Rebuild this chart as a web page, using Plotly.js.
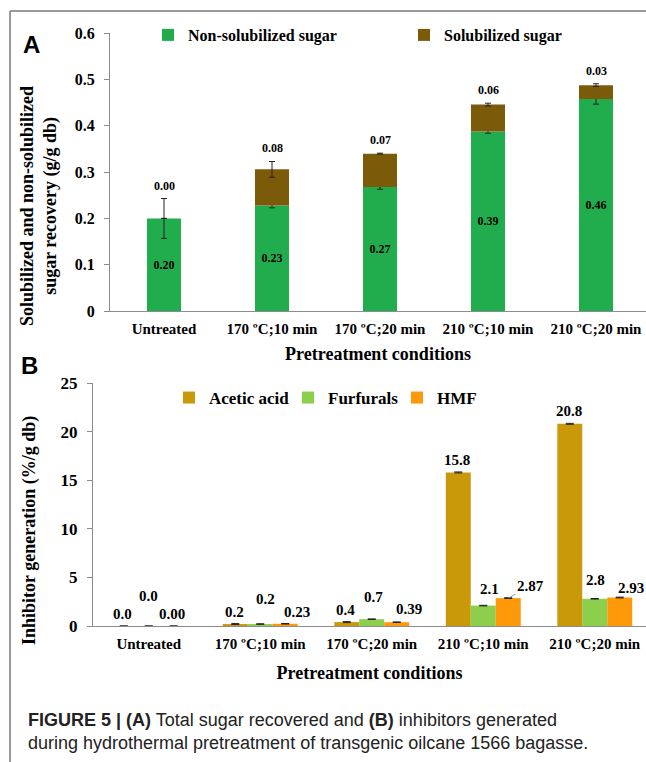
<!DOCTYPE html>
<html><head><meta charset="utf-8">
<script src="https://cdn.plot.ly/plotly-3.0.1.min.js"></script>
<style>html,body{margin:0;padding:0;background:#fff;} #chart{width:646px;height:762px;}</style>
</head><body><div id="chart"></div>
<script>
// ---------- data ----------
const conditions = ['Untreated', '170 ºC;10 min', '170 ºC;20 min', '210 ºC;10 min', '210 ºC;20 min'];
const nonSolubilized = [0.200, 0.228, 0.268, 0.388, 0.458];
const nonSolubilizedErr = [0.043, 0.005, 0.005, 0.004, 0.011];
const solubilized = [0.000, 0.078, 0.072, 0.058, 0.030];
const solubilizedErr = [0.000, 0.017, 0.001, 0.003, 0.003];
const aceticAcid = [0.0, 0.2, 0.4, 15.8, 20.8];
const aceticErr = [0.0, 0.05, 0.05, 0.05, 0.05];
const furfurals = [0.0, 0.2, 0.7, 2.1, 2.8];
const furfuralsErr = [0.0, 0.03, 0.03, 0.03, 0.03];
const hmf = [0.00, 0.23, 0.39, 2.87, 2.93];
const hmfErr = [0.0, 0.03, 0.03, 0.04, 0.04];
const xTitle = 'Pretreatment conditions';
const yTitleA = 'Solubilized and non-solubilized<br>sugar recovery (g/g db)';
const yTitleB = 'Inhibitor generation (%/g db)';
const caption = '<b>FIGURE 5 | (A)</b> Total sugar recovered and <b>(B)</b> inhibitors generated<br>during hydrothermal pretreatment of transgenic oilcane 1566 bagasse.';

// ---------- style ----------
const W = 646, H = 762;
const px = v => v / W;            // horizontal pixel -> paper
const py = v => 1 - v / H;        // vertical pixel -> paper
const SERIF = 'Liberation Serif';
const SANS = 'Liberation Sans';
const AXC = '#8c8c8c';
const cGreen = '#21ad4e', cBrown = '#7b5b09';
const cAcetic = '#c9990a', cFurf = '#8ccf4d', cHmf = '#fe990a';
const bwA = 0.315;      // bar width panel A (category units)
const bwB = 0.224;      // single bar width panel B
const errStyle = (arr, w) => ({type: 'data', array: arr, visible: true, color: '#222', thickness: 1, width: w});

const traces = [
  {type: 'bar', name: 'Non-solubilized sugar', x: conditions, y: nonSolubilized, width: bwA,
   marker: {color: cGreen}, xaxis: 'x', yaxis: 'y', legend: 'legend', legendwidth: 211,
   error_y: errStyle(nonSolubilizedErr, 3),
   texttemplate: '%{y:.2f}', textposition: 'inside', insidetextanchor: 'middle', textangle: 0,
   textfont: {family: SERIF, size: 12, color: '#000', weight: 'bold'}},
  {type: 'bar', name: 'Solubilized sugar', x: conditions, y: solubilized, base: nonSolubilized, width: bwA,
   marker: {color: cBrown}, xaxis: 'x', yaxis: 'y', legend: 'legend', legendwidth: 120,
   error_y: errStyle(solubilizedErr, 3)},
  {type: 'bar', name: 'Acetic acid', x: conditions, y: aceticAcid, width: bwB, offset: -1.5 * bwB,
   marker: {color: cAcetic}, xaxis: 'x2', yaxis: 'y2', legend: 'legend2', legendwidth: 74,
   error_y: errStyle(aceticErr, 4)},
  {type: 'bar', name: 'Furfurals', x: conditions, y: furfurals, width: bwB, offset: -0.5 * bwB,
   marker: {color: cFurf}, xaxis: 'x2', yaxis: 'y2', legend: 'legend2', legendwidth: 64,
   error_y: errStyle(furfuralsErr, 4)},
  {type: 'bar', name: 'HMF', x: conditions, y: hmf, width: bwB, offset: 0.5 * bwB,
   marker: {color: cHmf}, xaxis: 'x2', yaxis: 'y2', legend: 'legend2', legendwidth: 40,
   error_y: errStyle(hmfErr, 4)}
];

const annotations = [];
const txt = (text, x, y, size, family, extra) => Object.assign({
  text, x, y, xref: 'paper', yref: 'paper', showarrow: false, xanchor: 'center', yanchor: 'middle',
  font: {family, size, color: '#000', weight: 'bold'}}, extra || {});

annotations.push(txt('A', px(31.5), py(44.5), 24, SANS));
annotations.push(txt('B', px(29), py(365), 24, SANS));
annotations.push(txt(yTitleA, px(39), py(206), 18, SERIF, {textangle: -90}));
annotations.push(txt(yTitleB, px(29), py(531), 18, SERIF, {textangle: -90}));
annotations.push({text: caption, x: px(26), y: py(731), xref: 'paper', yref: 'paper', showarrow: false,
  xanchor: 'left', yanchor: 'middle', align: 'left',
  font: {family: SANS, size: 18, color: '#222'}});

// solubilized labels above the stack
conditions.forEach((c, i) => {
  const top = Math.max(nonSolubilized[i] + nonSolubilizedErr[i], nonSolubilized[i] + solubilized[i] + solubilizedErr[i]);
  annotations.push({text: solubilized[i].toFixed(2), x: i, y: top, xref: 'x', yref: 'y', showarrow: false,
    yanchor: 'middle', yshift: 13, font: {family: SERIF, size: 12, color: '#000', weight: 'bold'}});
});

// inhibitor labels
const lblFont = {family: SERIF, size: 15, color: '#000', weight: 'bold'};
const furfDy = [30, 25, 22, 17, 19];
const furfDx = [0, 5, 2, 6, 1];
const hmfDx = [-2, 12, 12, 0, 11];
const hmfDy = [12, 12, 13, 0, 10];
conditions.forEach((c, i) => {
  annotations.push({text: aceticAcid[i].toFixed(1), x: i - bwB, y: aceticAcid[i], xref: 'x2', yref: 'y2',
    showarrow: false, yanchor: 'middle', yshift: 12.5, xshift: -1, font: lblFont});
  annotations.push({text: furfurals[i].toFixed(1), x: i, y: furfurals[i], xref: 'x2', yref: 'y2',
    showarrow: false, yanchor: 'middle', yshift: furfDy[i], xshift: furfDx[i], font: lblFont});
  if (i === 3) {
    annotations.push({text: hmf[i].toFixed(2), x: i + bwB, y: hmf[i], xref: 'x2', yref: 'y2',
      showarrow: true, arrowhead: 0, arrowwidth: 1, arrowcolor: '#999', ax: 22, ay: -12, standoff: 0,
      font: lblFont});
  } else {
    annotations.push({text: hmf[i].toFixed(2), x: i + bwB, y: hmf[i], xref: 'x2', yref: 'y2',
      showarrow: false, yanchor: 'middle', yshift: hmfDy[i], xshift: hmfDx[i], font: lblFont});
  }
});

const tickFontX = {family: SERIF, size: 15, color: '#000', weight: 'bold'};
const titleFont = {family: SERIF, size: 18, color: '#000', weight: 'bold'};
const baseX = {type: 'category', showline: true, linecolor: AXC, linewidth: 1, ticks: '', showgrid: false,
  zeroline: false, tickfont: tickFontX, ticklabelstandoff: 4};
const baseY = {showline: true, linecolor: AXC, linewidth: 1, ticks: 'outside', ticklen: 5, tickcolor: AXC,
  showgrid: false, zeroline: false, ticklabelstandoff: 6};

const layout = {
  width: W, height: H, margin: {l: 0, r: 0, t: 0, b: 0},
  paper_bgcolor: '#fff', plot_bgcolor: 'rgba(0,0,0,0)',
  barmode: 'overlay', hovermode: false,
  xaxis: Object.assign({}, baseX, {domain: [px(110), 1], range: [-0.5, -0.5 + 536 / 108], anchor: 'y',
    title: {text: xTitle, font: titleFont, standoff: 11}}),
  yaxis: Object.assign({}, baseY, {domain: [py(311), py(33.3)], range: [0, 0.6], dtick: 0.1, tick0: 0, anchor: 'x',
    tickfont: {family: SERIF, size: 16, color: '#000', weight: 'bold'}}),
  xaxis2: Object.assign({}, baseX, {domain: [px(93), 1], range: [-0.5, -0.5 + 553 / 111.5], anchor: 'y2',
    title: {text: xTitle, font: titleFont, standoff: 15}}),
  yaxis2: Object.assign({}, baseY, {domain: [py(626), py(383)], range: [0, 25], dtick: 5, tick0: 0, anchor: 'x2',
    tickfont: {family: SERIF, size: 17, color: '#000', weight: 'bold'}}),
  legend: {orientation: 'h', x: px(148), xanchor: 'left', y: py(35), yanchor: 'middle',
    bgcolor: 'rgba(0,0,0,0)', font: {family: SERIF, size: 16, color: '#000', weight: 'bold'}, traceorder: 'normal'},
  legend2: {orientation: 'h', x: px(169), xanchor: 'left', y: py(398), yanchor: 'middle',
    bgcolor: 'rgba(0,0,0,0)', font: {family: SERIF, size: 17, color: '#000', weight: 'bold'}, traceorder: 'normal'},
  shapes: [
    {type: 'line', xref: 'paper', yref: 'paper', x0: px(10), x1: 1, y0: py(11), y1: py(11), line: {color: '#999', width: 2}},
    {type: 'line', xref: 'paper', yref: 'paper', x0: px(10), x1: px(10), y0: 0, y1: py(11), line: {color: '#999', width: 2}}
  ],
  annotations: annotations
};

Plotly.newPlot('chart', traces, layout, {displayModeBar: false, staticPlot: true});
</script>
</body></html>
